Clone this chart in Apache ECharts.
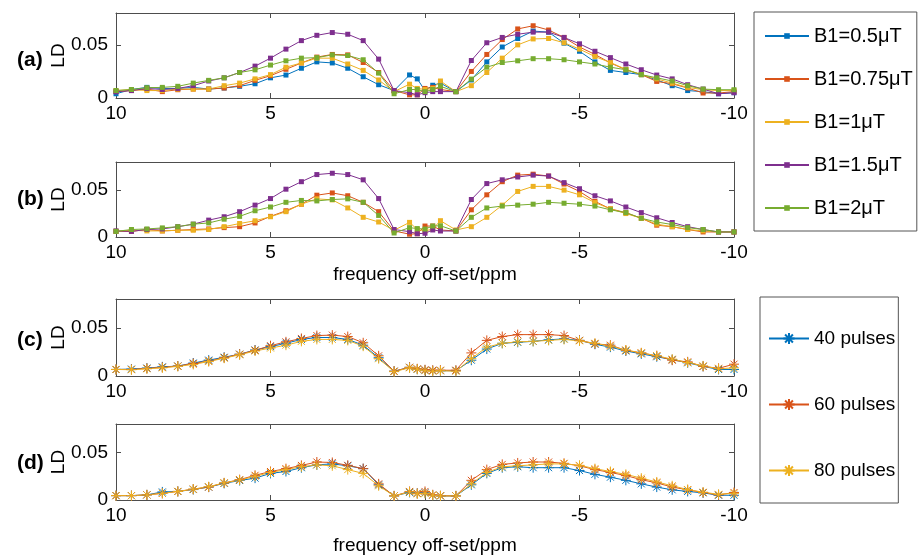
<!DOCTYPE html>
<html>
<head>
<meta charset="utf-8">
<script src="https://cdn.jsdelivr.net/npm/echarts@6/dist/echarts.min.js"></script>
<style>
  html, body { margin: 0; padding: 0; background: #fff; }
  #main { width: 923px; height: 558px; }
</style>
</head>
<body>
<div id="main"></div>
<script>
var chartDom = document.getElementById('main');
var myChart = echarts.init(chartDom);
var option;

// frequency offsets (ppm), shared by every panel
const ppm = [10, 9.5, 9, 8.5, 8, 7.5, 7, 6.5, 6, 5.5, 5, 4.5, 4, 3.5, 3, 2.5, 2, 1.5, 1,
  0.5, 0.25, 0, -0.25, -0.5,
  -1, -1.5, -2, -2.5, -3, -3.5, -4, -4.5, -5, -5.5, -6, -6.5, -7, -7.5, -8, -8.5, -9, -9.5, -10];

const xTicks = ['10', '5', '0', '-5', '-10'];
const yTicks = ['0', '0.05'];
const panelLabels = ['(a)', '(b)', '(c)', '(d)'];

const b1Names = ['B1=0.5\u03bcT', 'B1=0.75\u03bcT', 'B1=1\u03bcT', 'B1=1.5\u03bcT', 'B1=2\u03bcT'];
const pulseNames = ['40 pulses', '60 pulses', '80 pulses'];

// panel (a)
const a_b05 = [0.004, 0.008, 0.010, 0.009, 0.009, 0.010, 0.0084, 0.0094, 0.011, 0.0134, 0.019, 0.0216, 0.028, 0.034, 0.033, 0.028, 0.020, 0.0125, 0.007,
  0.0217, 0.018, 0.007, 0.012, 0.014,
  0.006, 0.017, 0.034, 0.048, 0.056, 0.063, 0.062, 0.0516, 0.044, 0.034, 0.026, 0.024, 0.022, 0.017, 0.0116, 0.007, 0.006, 0.004, 0.005];
const a_b075 = [0.006, 0.007, 0.0084, 0.006, 0.0078, 0.0084, 0.0084, 0.0094, 0.0116, 0.0166, 0.021, 0.027, 0.033, 0.0385, 0.041, 0.0406, 0.0334, 0.024, 0.007,
  0.003, 0.003, 0.009, 0.010, 0.008,
  0.006, 0.025, 0.041, 0.055, 0.065, 0.068, 0.064, 0.057, 0.048, 0.041, 0.033, 0.0266, 0.022, 0.0156, 0.0134, 0.0094, 0.0047, 0.0047, 0.006];
const a_b1 = [0.007, 0.008, 0.007, 0.007, 0.0084, 0.0084, 0.0084, 0.0116, 0.014, 0.018, 0.022, 0.029, 0.033, 0.0375, 0.0375, 0.032, 0.026, 0.017, 0.006,
  0.013, 0.009, 0.008, 0.009, 0.016,
  0.006, 0.0116, 0.024, 0.0375, 0.050, 0.0556, 0.056, 0.052, 0.046, 0.039, 0.0334, 0.027, 0.022, 0.018, 0.014, 0.010, 0.0078, 0.007, 0.007];
const a_b15 = [0.006, 0.007, 0.009, 0.008, 0.009, 0.0116, 0.016, 0.019, 0.024, 0.030, 0.0375, 0.046, 0.054, 0.059, 0.0616, 0.060, 0.054, 0.0366, 0.007,
  0.005, 0.003, 0.005, 0.006, 0.006,
  0.006, 0.0353, 0.052, 0.057, 0.060, 0.062, 0.062, 0.057, 0.051, 0.044, 0.038, 0.032, 0.0266, 0.0216, 0.018, 0.0125, 0.0084, 0.004, 0.005];
const a_b2 = [0.007, 0.008, 0.0097, 0.010, 0.011, 0.014, 0.0166, 0.019, 0.024, 0.0265, 0.031, 0.035, 0.0375, 0.038, 0.0406, 0.040, 0.036, 0.0234, 0.004,
  0.008, 0.008, 0.006, 0.008, 0.011,
  0.006, 0.0178, 0.029, 0.0334, 0.035, 0.037, 0.037, 0.036, 0.034, 0.032, 0.029, 0.0266, 0.022, 0.019, 0.016, 0.0116, 0.0084, 0.0078, 0.0078];

// panel (b)
const b_b075 = [0.006, 0.006, 0.008, 0.0065, 0.0072, 0.008, 0.0086, 0.010, 0.011, 0.015, 0.022, 0.028, 0.035, 0.0446, 0.047, 0.044, 0.037, 0.027, 0.0065,
  0.003, 0.0035, 0.0117, 0.0117, 0.0075,
  0.0064, 0.029, 0.045, 0.059, 0.066, 0.067, 0.065, 0.0565, 0.0486, 0.038, 0.030, 0.026, 0.020, 0.0126, 0.011, 0.008, 0.0054, 0.0054, 0.0054];
const b_b1 = [0.006, 0.0072, 0.0065, 0.0065, 0.0072, 0.0072, 0.008, 0.011, 0.0144, 0.0173, 0.0216, 0.027, 0.035, 0.0407, 0.0396, 0.031, 0.021, 0.016, 0.0072,
  0.0156, 0.008, 0.0065, 0.0085, 0.0174,
  0.0075, 0.011, 0.021, 0.034, 0.0486, 0.054, 0.054, 0.050, 0.045, 0.0367, 0.030, 0.025, 0.020, 0.0137, 0.011, 0.008, 0.0065, 0.0054, 0.0054];
const b_b15 = [0.0065, 0.006, 0.008, 0.0086, 0.011, 0.0137, 0.018, 0.0216, 0.027, 0.034, 0.041, 0.051, 0.059, 0.0666, 0.068, 0.0666, 0.061, 0.041, 0.008,
  0.0057, 0.0035, 0.004, 0.0075, 0.0064,
  0.0064, 0.040, 0.057, 0.061, 0.064, 0.066, 0.065, 0.058, 0.0515, 0.044, 0.0385, 0.032, 0.026, 0.0205, 0.0155, 0.011, 0.008, 0.0054, 0.0054];
const b_b2 = [0.006, 0.008, 0.0086, 0.0097, 0.011, 0.0137, 0.015, 0.019, 0.022, 0.028, 0.032, 0.037, 0.039, 0.0385, 0.040, 0.0407, 0.037, 0.023, 0.0043,
  0.010, 0.009, 0.0085, 0.0117, 0.012,
  0.0064, 0.021, 0.031, 0.033, 0.034, 0.035, 0.037, 0.036, 0.035, 0.033, 0.029, 0.026, 0.020, 0.016, 0.0133, 0.010, 0.008, 0.0054, 0.0054];

// panel (c)
const c_p40 = [0.0068, 0.0072, 0.0082, 0.0095, 0.0103, 0.0135, 0.0165, 0.0195, 0.0226, 0.027, 0.0305, 0.034, 0.038, 0.040, 0.040, 0.038, 0.032, 0.019, 0.005,
  0.009, 0.007, 0.006, 0.0055, 0.0055,
  0.0055, 0.0164, 0.028, 0.034, 0.035, 0.036, 0.0376, 0.0386, 0.037, 0.033, 0.030, 0.026, 0.023, 0.020, 0.017, 0.0137, 0.010, 0.0068, 0.0068];
const c_p60 = [0.0068, 0.0068, 0.0079, 0.009, 0.0103, 0.013, 0.0155, 0.019, 0.0226, 0.0267, 0.0315, 0.0355, 0.039, 0.042, 0.0425, 0.041, 0.0345, 0.021, 0.005,
  0.009, 0.0075, 0.0065, 0.006, 0.006,
  0.006, 0.024, 0.037, 0.041, 0.043, 0.043, 0.043, 0.042, 0.037, 0.0335, 0.032, 0.0267, 0.024, 0.021, 0.0164, 0.0147, 0.010, 0.008, 0.0123];
const c_p80 = [0.0068, 0.0065, 0.0075, 0.0085, 0.010, 0.012, 0.015, 0.0185, 0.022, 0.026, 0.029, 0.032, 0.036, 0.038, 0.038, 0.037, 0.031, 0.018, 0.0045,
  0.0085, 0.007, 0.0055, 0.005, 0.0055,
  0.005, 0.018, 0.030, 0.034, 0.0355, 0.036, 0.037, 0.038, 0.0365, 0.034, 0.031, 0.027, 0.024, 0.021, 0.0175, 0.014, 0.0105, 0.0075, 0.0085];

// panel (d)
const d_p40 = [0.0046, 0.0046, 0.0054, 0.0085, 0.009, 0.011, 0.0136, 0.0175, 0.0205, 0.023, 0.028, 0.030, 0.034, 0.037, 0.038, 0.036, 0.033, 0.016, 0.0043,
  0.008, 0.007, 0.0075, 0.005, 0.0043,
  0.0043, 0.016, 0.028, 0.034, 0.035, 0.034, 0.034, 0.034, 0.031, 0.027, 0.024, 0.0207, 0.017, 0.0136, 0.0107, 0.009, 0.0075, 0.005, 0.005];
const d_p60 = [0.0046, 0.0046, 0.0054, 0.007, 0.009, 0.0114, 0.0136, 0.018, 0.0214, 0.026, 0.030, 0.033, 0.0364, 0.040, 0.0395, 0.0365, 0.033, 0.017, 0.0043,
  0.009, 0.007, 0.009, 0.0055, 0.0045,
  0.0043, 0.0207, 0.032, 0.0375, 0.039, 0.040, 0.040, 0.0386, 0.036, 0.032, 0.029, 0.0257, 0.0214, 0.018, 0.0136, 0.0107, 0.0079, 0.0054, 0.0079];
const d_p80 = [0.0046, 0.0046, 0.0054, 0.007, 0.009, 0.0114, 0.014, 0.018, 0.021, 0.025, 0.029, 0.032, 0.035, 0.037, 0.036, 0.032, 0.028, 0.015, 0.0043,
  0.0085, 0.0065, 0.007, 0.005, 0.0043,
  0.0043, 0.017, 0.029, 0.035, 0.036, 0.037, 0.038, 0.038, 0.0365, 0.033, 0.030, 0.027, 0.023, 0.019, 0.015, 0.011, 0.0082, 0.006, 0.007];

const colors = ['#0072BD', '#D95319', '#EDB120', '#7E2F8E', '#77AC30'];
const FONT = 'Liberation Sans, Arial, sans-serif';
const AXIS_COLOR = '#4d4d4d';
const STAR = 'path://M0,-10L0,10M-10,0L10,0M-7,-7L7,7M-7,7L7,-7';

const grids = [
  { top: 13, height: 85 },
  { top: 162, height: 75 },
  { top: 299, height: 77 },
  { top: 424, height: 76 }
];

function pairs(values) {
  return values.map((v, i) => [ppm[i], v]);
}

function makeSeries(name, values, colorIdx, panel, star) {
  let s = {
    name: name,
    type: 'line',
    xAxisIndex: panel * 2,
    yAxisIndex: panel * 2,
    data: pairs(values),
    color: colors[colorIdx],
    lineStyle: { width: 1 },
    symbol: 'rect',
    symbolSize: 5,
    animation: false
  };
  if (star) {
    s.symbol = STAR;
    s.symbolSize = 10;
    s.itemStyle = { color: colors[colorIdx], borderColor: colors[colorIdx], borderWidth: 1 };
  }
  return s;
}

function getSeries() {
  return [
    makeSeries(b1Names[0], a_b05, 0, 0),
    makeSeries(b1Names[1], a_b075, 1, 0),
    makeSeries(b1Names[2], a_b1, 2, 0),
    makeSeries(b1Names[3], a_b15, 3, 0),
    makeSeries(b1Names[4], a_b2, 4, 0),
    makeSeries(b1Names[1], b_b075, 1, 1),
    makeSeries(b1Names[2], b_b1, 2, 1),
    makeSeries(b1Names[3], b_b15, 3, 1),
    makeSeries(b1Names[4], b_b2, 4, 1),
    makeSeries(pulseNames[0], c_p40, 0, 2, true),
    makeSeries(pulseNames[1], c_p60, 1, 2, true),
    makeSeries(pulseNames[2], c_p80, 2, 2, true),
    makeSeries(pulseNames[0], d_p40, 0, 3, true),
    makeSeries(pulseNames[1], d_p60, 1, 3, true),
    makeSeries(pulseNames[2], d_p80, 2, 3, true)
  ];
}

let xAxes = [];
let yAxes = [];
grids.forEach((g, i) => {
  const withName = (i === 1 || i === 3);
  xAxes.push({
    gridIndex: i,
    type: 'value',
    inverse: true,
    min: -10,
    max: 10,
    interval: 5,
    position: 'bottom',
    name: withName ? 'frequency off-set/ppm' : '',
    nameLocation: 'middle',
    nameGap: i === 1 ? 28 : 36,
    nameMoveOverlap: false,
    nameTextStyle: { fontFamily: FONT, fontSize: 19, color: '#000' },
    axisLine: { show: true, onZero: false, lineStyle: { color: AXIS_COLOR } },
    axisTick: { show: true, inside: true, length: 5, lineStyle: { color: AXIS_COLOR } },
    axisLabel: {
      fontFamily: FONT, fontSize: 19, color: '#000', margin: 6,
      formatter: v => xTicks.indexOf(String(v)) >= 0 ? String(v) : ''
    },
    splitLine: { show: false }
  });
  xAxes.push({
    gridIndex: i,
    type: 'value',
    inverse: true,
    min: -10,
    max: 10,
    interval: 5,
    position: 'top',
    axisLine: { show: true, onZero: false, lineStyle: { color: AXIS_COLOR } },
    axisTick: { show: true, inside: true, length: 5, lineStyle: { color: AXIS_COLOR } },
    axisLabel: { show: false },
    splitLine: { show: false }
  });
  yAxes.push({
    gridIndex: i,
    type: 'value',
    min: 0,
    max: 0.08,
    interval: 0.05,
    position: 'left',
    name: 'LD',
    nameLocation: 'middle',
    nameGap: 48,
    nameRotate: 90,
    nameMoveOverlap: false,
    nameTextStyle: { fontFamily: FONT, fontSize: 19, color: '#000' },
    axisLine: { show: true, onZero: false, lineStyle: { color: AXIS_COLOR } },
    axisTick: { show: true, inside: true, length: 5, lineStyle: { color: AXIS_COLOR } },
    axisLabel: {
      fontFamily: FONT, fontSize: 19, color: '#000', margin: 8,
      formatter: v => {
        if (Math.abs(v) < 1e-9) return yTicks[0];
        if (Math.abs(v - 0.05) < 1e-9) return yTicks[1];
        return '';
      }
    },
    splitLine: { show: false }
  });
  yAxes.push({
    gridIndex: i,
    type: 'value',
    min: 0,
    max: 0.08,
    interval: 0.05,
    position: 'right',
    axisLine: { show: true, onZero: false, lineStyle: { color: AXIS_COLOR } },
    axisTick: { show: true, inside: true, length: 5, lineStyle: { color: AXIS_COLOR } },
    axisLabel: { show: false },
    splitLine: { show: false }
  });
});

const labelY = [62, 201, 342, 465];

option = {
  animation: false,
  textStyle: { fontFamily: FONT },
  grid: grids.map(g => ({ left: 116, width: 618, top: g.top, height: g.height })),
  xAxis: xAxes,
  yAxis: yAxes,
  legend: [
    {
      data: b1Names,
      orient: 'vertical',
      left: 754,
      top: 12,
      padding: [14, 4, 13, 10],
      itemGap: 23,
      itemWidth: 44,
      itemHeight: 7,
      borderColor: '#555',
      borderWidth: 1,
      textStyle: { fontFamily: FONT, fontSize: 20, color: '#000' },
      selectedMode: false
    },
    {
      data: pulseNames,
      orient: 'vertical',
      left: 760,
      top: 297,
      padding: [32, 3, 23, 8],
      itemGap: 47,
      itemWidth: 40,
      itemHeight: 14,
      borderColor: '#555',
      borderWidth: 1,
      textStyle: { fontFamily: FONT, fontSize: 19, color: '#000' },
      selectedMode: false
    }
  ],
  graphic: panelLabels.map((t, i) => ({
    type: 'text',
    left: 17,
    top: labelY[i] - 12,
    style: { text: t, fontFamily: FONT, fontSize: 21, fontWeight: 'bold', fill: '#000' }
  })),
  series: getSeries()
};

option && myChart.setOption(option);
</script>
</body>
</html>
